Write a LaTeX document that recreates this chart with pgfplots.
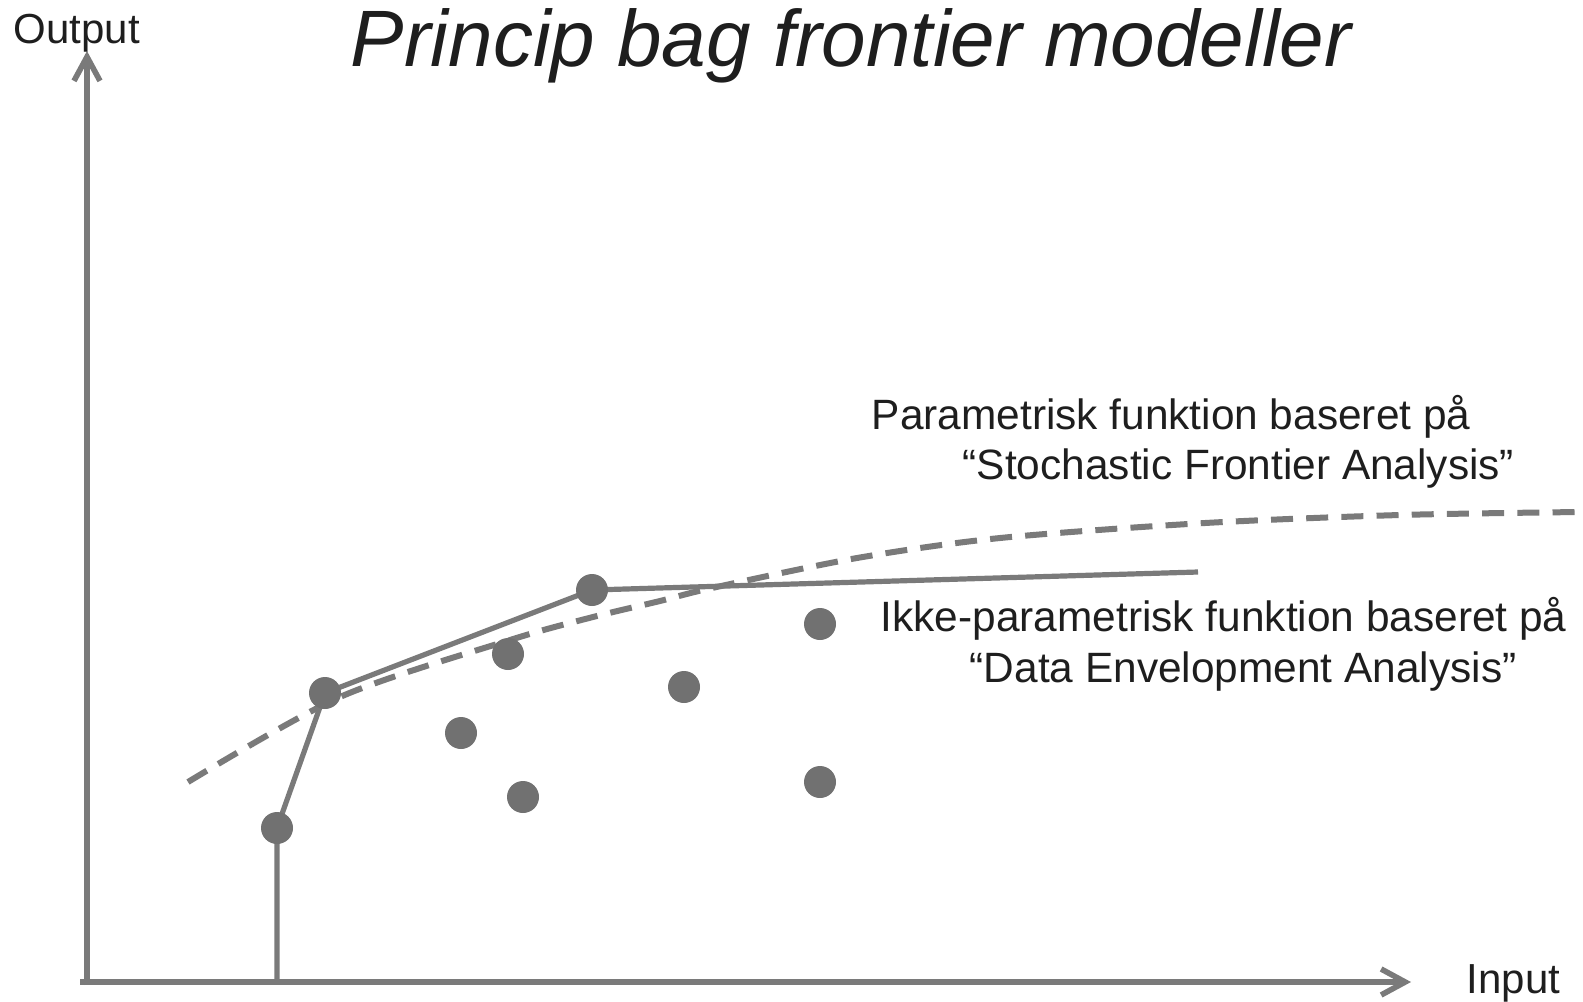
\documentclass[border=0pt]{standalone}
\usepackage{fontspec}
\setmainfont{Liberation Sans}
\usepackage{pgfplots}
\pgfplotsset{compat=1.18}
\usetikzlibrary{arrows.meta}
\definecolor{ax}{HTML}{7A7A7A}
\definecolor{dot}{HTML}{717171}
\definecolor{txt}{HTML}{1E1E1E}
\begin{document}
\begin{tikzpicture}
\begin{axis}[
  scale only axis, width=395.75bp, height=250.5bp,
  xmin=0, xmax=1583, ymin=0, ymax=1002, y dir=reverse,
  hide axis, clip=false,
]
\path (rel axis cs:0,0) rectangle (rel axis cs:1,1);
% data points
\addplot[only marks, mark=*, mark size=3.8bp, color=dot] coordinates {
  (277,828) (325,693) (592,590) (508,654) (461,733) (523,797) (684,687) (820,624) (820,782)};
% axes
\addplot[ax, line width=1.4bp, -{Straight Barb[length=6bp,width=6.5bp,line width=1.4bp]}] coordinates {(87,985) (87,51)};
\addplot[ax, line width=1.4bp, -{Straight Barb[length=6bp,width=6.5bp,line width=1.4bp]}] coordinates {(80,982) (1411,982)};
% DEA frontier
\addplot[ax, line width=1.3bp] coordinates {(277,982) (277,828) (325,693) (592,590) (1198,572)};
% SFA frontier
\addplot[ax, line width=1.5bp, dash pattern=on 5.5bp off 3.3bp, smooth, tension=0.5] coordinates {
  (188,782) (340,697) (510,640) (593,617) (660,601) (712,588) (857,558) (1000,538) (1205,523) (1400,515) (1580,512)};
% texts
\node[anchor=base, inner sep=0pt, txt, font=\fontsize{20bp}{24bp}\selectfont\itshape] at (axis cs:851,66) {Princip bag frontier modeller};
\node[anchor=base west, inner sep=0pt, txt, font=\fontsize{10.5bp}{12bp}\selectfont] at (axis cs:13,43) {Output};
\node[anchor=base west, inner sep=0pt, txt, font=\fontsize{10.5bp}{12bp}\selectfont] at (axis cs:1466,993) {Input};
\node[anchor=base west, inner sep=0pt, txt, font=\fontsize{10.6bp}{12bp}\selectfont] at (axis cs:871,429) {Parametrisk funktion baseret på};
\node[anchor=base west, inner sep=0pt, txt, font=\fontsize{10.6bp}{12bp}\selectfont] at (axis cs:962,479) {“Stochastic Frontier Analysis”};
\node[anchor=base west, inner sep=0pt, txt, font=\fontsize{10.6bp}{12bp}\selectfont] at (axis cs:880,631) {Ikke-parametrisk funktion baseret på};
\node[anchor=base west, inner sep=0pt, txt, font=\fontsize{10.6bp}{12bp}\selectfont] at (axis cs:969,682) {“Data Envelopment Analysis”};
\end{axis}
\end{tikzpicture}
\end{document}
